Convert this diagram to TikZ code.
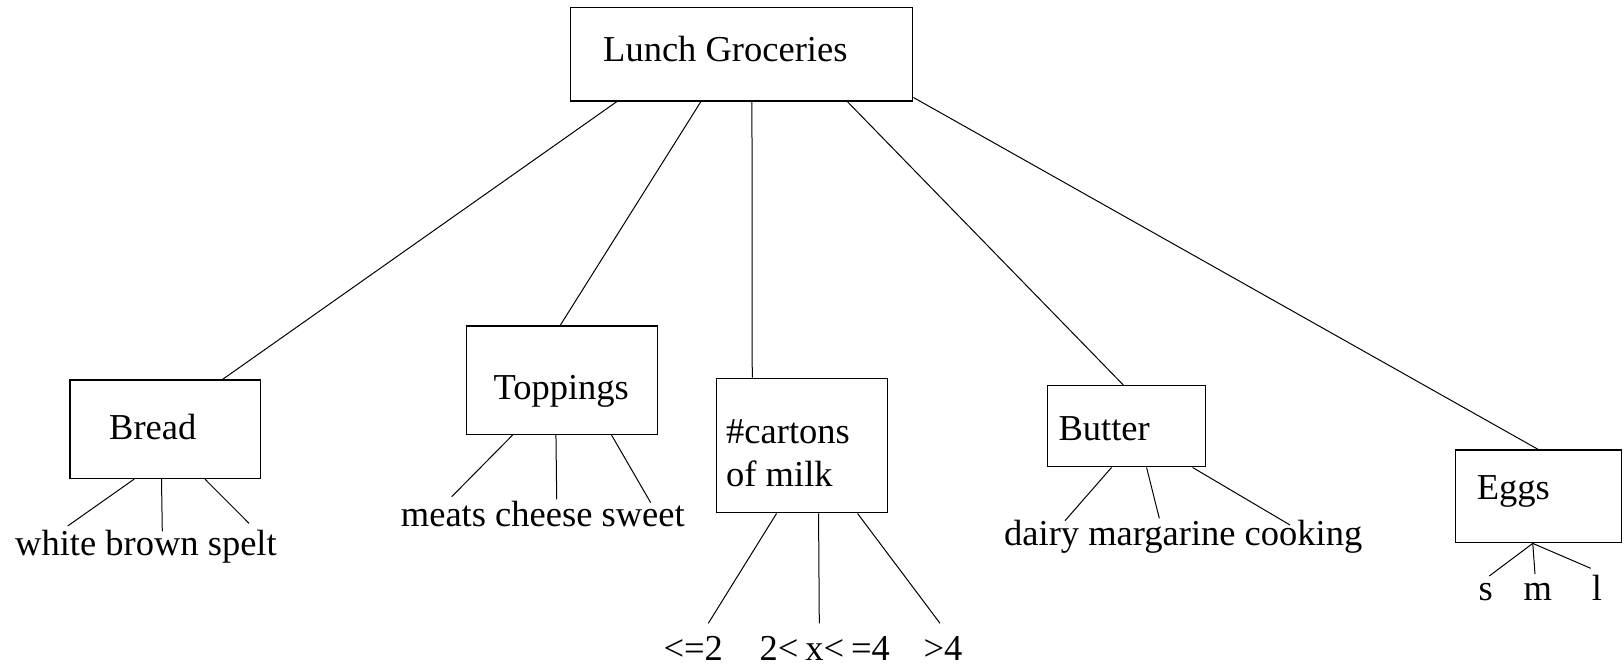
\documentclass[tikz,border=0pt]{standalone}
\usepackage{fontspec}
\setmainfont{Liberation Serif}
\usetikzlibrary{calc}
\begin{document}
\begin{tikzpicture}[x=1pt,y=-1pt,
  box/.style={draw, line width=1.5pt, inner sep=0pt, rectangle},
  txt/.style={anchor=base west, inner sep=0pt, font=\fontsize{36.5}{43}\selectfont},
  conn/.style={line width=1pt}]
\useasboundingbox (0,0) rectangle (1624,666);
% boxes
\node[box, minimum width=342pt, minimum height=93.7pt] (root) at (741.7,54.2) {};
\node[box, minimum width=190.7pt, minimum height=98.3pt] (bread) at (165.3,429.2) {};
\node[box, minimum width=190.6pt, minimum height=108.3pt] (top) at (562,380.2) {};
\node[box, minimum width=170.6pt, minimum height=134.4pt] (milk) at (802,445.5) {};
\node[box, minimum width=158.4pt, minimum height=81pt] (butter) at (1126.5,426.2) {};
\node[box, minimum width=166pt, minimum height=92.7pt] (eggs) at (1538.5,496.3) {};
% box texts
\node[txt] (rootT) at (603,61.7) {Lunch Groceries};
\node[txt] (breadT) at (109,439.3) {Bread};
\node[txt] (topT) at (493.3,399.3) {Toppings};
\node[txt] (milkA) at (726,443.3) {\#cartons};
\node[txt] (milkB) at (726,486.7) {of milk};
\node[txt] (butterT) at (1058.3,440.7) {Butter};
\node[txt] (eggsT) at (1476.7,499) {Eggs};
% leaf texts
\node[txt] (breadL) at (15,555) {white brown spelt};
\node[txt] (topL) at (400.7,526.7) {meats cheese sweet};
\node[txt] (butterL) at (1004,545) {dairy margarine cooking};
\node[txt] (m1) at (663.3,660) {<=2};
\node[txt] (m2) at (759.3,660) {2<\kern7pt x<\kern7pt=4};
\node[txt] (m3) at (923.3,660) {>4};
\node[txt] (e1) at (1478.3,600) {s};
\node[txt] (e2) at (1523.3,600) {m};
\node[txt] (e3) at (1591.7,600) {l};
% leaf line ends
\coordinate (b1) at (67.7,526);
\coordinate (b2) at (162.3,531.3);
\coordinate (b3) at (249,523.3);
\coordinate (t1) at (451.7,496.7);
\coordinate (t2) at (556.7,499.3);
\coordinate (t3) at (650.7,502.7);
\coordinate (k1) at (708.3,623.3);
\coordinate (k2) at (819.3,623.3);
\coordinate (k3) at (940,623.3);
\coordinate (u1) at (1065,520.7);
\coordinate (u2) at (1159.3,518.3);
\coordinate (u3) at (1290,525);
\coordinate (g1) at (1489.3,576);
\coordinate (g2) at (1535,574);
\coordinate (g3) at (1590.7,568.3);
% root connectors
\draw[conn] ([xshift=46.6pt]root.south west) -- ([xshift=153.5pt]bread.north west);
\draw[conn] ([xshift=130.8pt]root.south west) -- ([xshift=94.3pt]top.north west);
\draw[conn] ([xshift=182pt]root.south west) -- ([xshift=36.3pt]milk.north west);
\draw[conn] ([xshift=277.6pt]root.south west) -- ([xshift=76.7pt]butter.north west);
\draw[conn] ([yshift=4.3pt]root.south east) -- ([xshift=83pt]eggs.north west);
% leaf connectors
\draw[conn] ([xshift=65pt]bread.south west) -- (b1);
\draw[conn] ([xshift=92.3pt]bread.south west) -- (b2);
\draw[conn] ([xshift=135.7pt]bread.south west) -- (b3);
\draw[conn] ([xshift=46.6pt]top.south west) -- (t1);
\draw[conn] ([xshift=90pt]top.south west) -- (t2);
\draw[conn] ([xshift=145.6pt]top.south west) -- (t3);
\draw[conn] ([xshift=60.6pt]milk.south west) -- (k1);
\draw[conn] ([xshift=102.6pt]milk.south west) -- (k2);
\draw[conn] ([xshift=141.6pt]milk.south west) -- (k3);
\draw[conn] ([xshift=65pt]butter.south west) -- (u1);
\draw[conn] ([xshift=100pt]butter.south west) -- (u2);
\draw[conn] ([xshift=146pt]butter.south west) -- (u3);
\draw[conn] ([xshift=78pt]eggs.south west) -- (g1);
\draw[conn] ([xshift=78pt]eggs.south west) -- (g2);
\draw[conn] ([xshift=78pt]eggs.south west) -- (g3);
\end{tikzpicture}
\end{document}
